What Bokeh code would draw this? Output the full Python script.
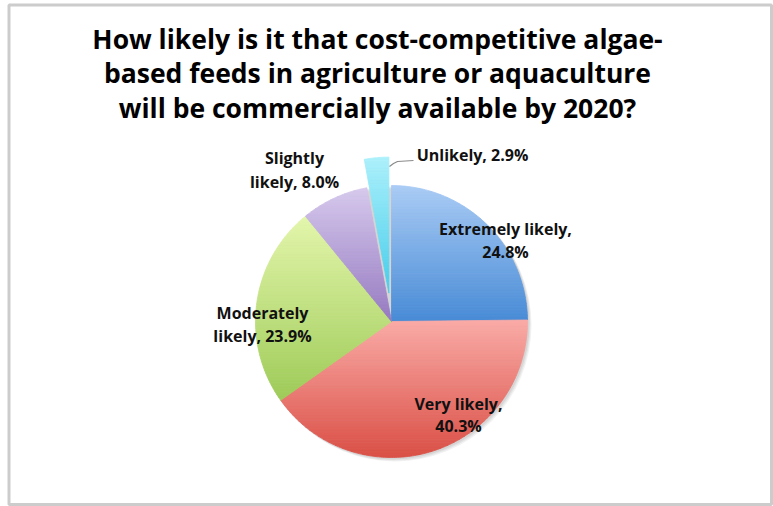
import numpy as np
from bokeh.plotting import figure
from bokeh.models import Range1d, Label
from bokeh.embed import file_html
from bokeh.resources import INLINE

# ---------------- data ----------------
categories = ["Extremely likely", "Very likely", "Moderately likely", "Slightly likely", "Unlikely"]
percents = [24.8, 40.3, 23.9, 8.0, 2.9]
label_lines = [
    ["Extremely likely,", "24.8%"],
    ["Very likely,", "40.3%"],
    ["Moderately", "likely, 23.9%"],
    ["Slightly", "likely, 8.0%"],
    ["Unlikely, 2.9%"],
]
title_lines = [
    "How likely is it that cost-competitive algae-",
    "based feeds in agriculture or aquaculture",
    "will be commercially available by 2020?",
]

# ---------------- style ----------------
W, H = 773, 506
FONT = "Open Sans"
top_colors = [(170, 204, 245), (250, 171, 167), (228, 246, 172), (214, 201, 237), (172, 240, 251)]
bot_colors = [(72, 139, 214), (218, 80, 70), (158, 203, 88), (150, 122, 192), (70, 205, 235)]
explode = [0, 0, 0, 0, 28.5]
CX, CY, R = 391.0, 321.0, 136.0          # screen coordinates
label_pos = [(505, 228, 23), (458, 403, 22), (262, 312, 23), (294, 157, 24), (472, 154, 0)]

p = figure(width=W, height=H, output_backend="svg", toolbar_location=None,
           x_range=Range1d(0, W), y_range=Range1d(0, H), min_border=0)
p.axis.visible = False
p.grid.visible = False
p.outline_line_color = None
p.background_fill_color = "white"
p.border_fill_color = "white"


def sy(y):
    return H - y


def clip(poly, keep, inter):
    out = []
    n = len(poly)
    for i in range(n):
        a, b = poly[i - 1], poly[i]
        ka, kb = keep(a), keep(b)
        if kb:
            if not ka:
                out.append(inter(a, b))
            out.append(b)
        elif ka:
            out.append(inter(a, b))
    return out


def at_y(yv):
    def f(a, b):
        t = (yv - a[1]) / (b[1] - a[1])
        return (a[0] + t * (b[0] - a[0]), yv)
    return f


# shadow
for k, (off, alpha) in enumerate([(3.5, 0.10), (2.5, 0.12), (1.5, 0.15)]):
    p.circle(x=[CX + off], y=[sy(CY + off)], radius=R + 0.5, fill_color="#808080",
             fill_alpha=alpha, line_color=None)

total = sum(percents)
start = 0.0
for i, pct in enumerate(percents):
    a0 = start
    a1 = start + pct / total * 2 * np.pi
    start = a1
    mid = (a0 + a1) / 2
    cx = CX + explode[i] * np.sin(mid)
    cy = CY - explode[i] * np.cos(mid)
    th = np.linspace(a0, a1, max(8, int(pct * 4)))
    poly = [(cx, cy)] + [(cx + R * np.sin(t), cy - R * np.cos(t)) for t in th]
    ys = [q[1] for q in poly]
    ymin, ymax = min(ys), max(ys)
    nb = max(6, int((ymax - ymin) / 3))
    edges = np.linspace(ymin, ymax, nb + 1)
    bxs, bys, cols = [], [], []
    for j in range(nb):
        lo, hi = edges[j], edges[j + 1]
        band = clip(poly, lambda q: q[1] >= lo, at_y(lo))
        if band:
            band = clip(band, lambda q: q[1] <= hi, at_y(hi))
        if len(band) < 3:
            continue
        t = (j + 0.5) / nb
        c = tuple(int(round(top_colors[i][k] + t * (bot_colors[i][k] - top_colors[i][k]))) for k in range(3))
        cols.append("#%02x%02x%02x" % c)
        bxs.append([q[0] for q in band])
        bys.append([sy(q[1]) for q in band])
    p.patches(xs=bxs, ys=bys, fill_color=cols, line_color=cols, line_width=0.8)

# leader line for the exploded slice
p.line(x=[389, 393, 397, 413], y=[sy(166), sy(163), sy(161), sy(160)], line_color="#8a8a8a", line_width=1.2)

# data labels
for i, lines in enumerate(label_lines):
    x0, y0, dy = label_pos[i]
    for k, txt in enumerate(lines):
        p.add_layout(Label(x=x0, y=sy(y0 + k * dy), text=txt, text_font=FONT, text_font_style="bold",
                           text_font_size="16px", text_align="center", text_baseline="middle",
                           text_color="#111111"))

# title
for k, txt in enumerate(title_lines):
    p.add_layout(Label(x=377, y=sy(38 + k * 34.5), text=txt, text_font=FONT, text_font_style="bold",
                       text_font_size="26.5px", text_align="center", text_baseline="middle",
                       text_color="#000000"))

# chart frame
p.quad(left=[8.5], right=[771], bottom=[sy(504)], top=[sy(4.5)], fill_color=None,
       line_color="#cccccc", line_width=3)

open("out.html", "w").write(file_html(p, INLINE))
